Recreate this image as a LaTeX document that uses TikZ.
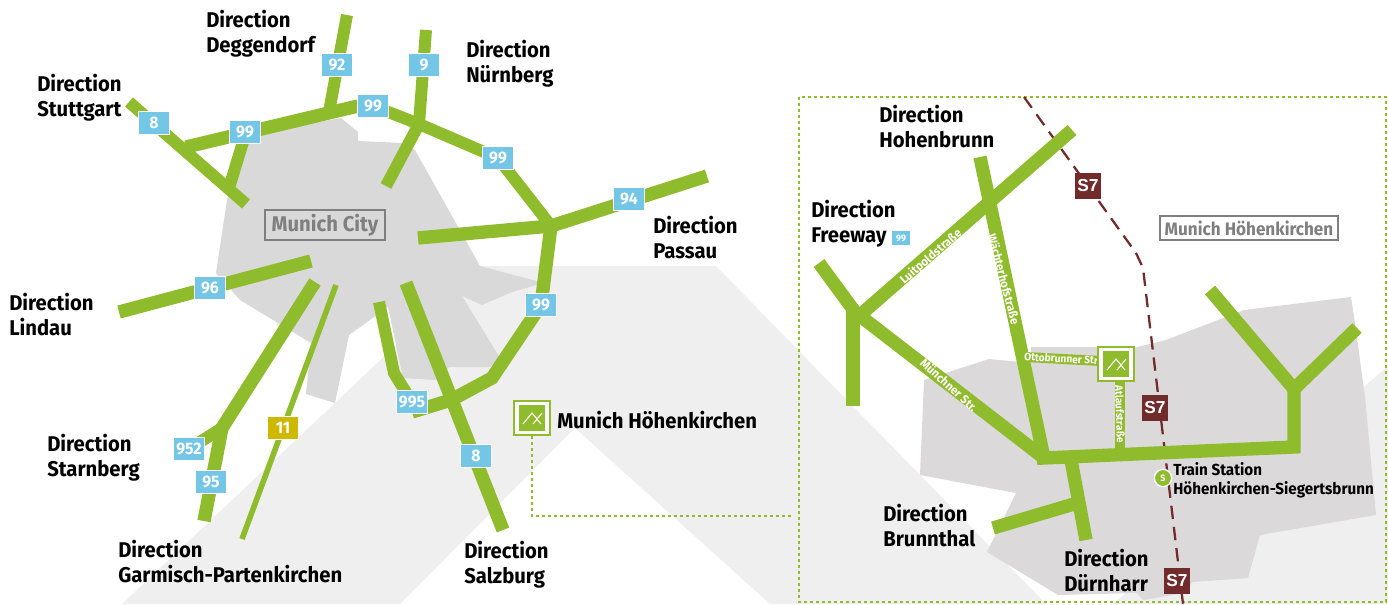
\documentclass[tikz,border=0pt]{standalone}
\usepackage{fontspec}
\setmainfont{Fira Sans}[FakeStretch=0.95]
\newfontfamily\arialish{Liberation Sans}
\usetikzlibrary{calc}
\definecolor{road}{HTML}{8FBC2C}
\definecolor{sky}{HTML}{74C6E6}
\definecolor{lightg}{HTML}{EFEFEF}
\definecolor{cityg}{HTML}{D9D9D9}
\definecolor{townog}{HTML}{DBD9DA}
\definecolor{rail}{HTML}{722B2B}
\definecolor{yel}{HTML}{CDB900}
\definecolor{framegray}{HTML}{7F7F7F}
\tikzset{
  rd/.style={draw=road,line width=10pt,line join=miter,line cap=butt},
  rdmid/.style={rd,line width=9pt},
  rdthin/.style={draw=road,line width=7.5pt},
  rdtiny/.style={draw=road,line width=4.2pt},
  badge/.style={fill=sky,draw=white,line width=1pt,minimum width=23pt,minimum height=17pt,inner sep=0pt,text=white,font=\bfseries\fontsize{12.5}{12.5}\selectfont},
  yellowbadge/.style={badge,fill=yel},
  sbadge/.style={fill=rail,minimum width=20pt,minimum height=20pt,inner sep=0pt,text=white,font=\arialish\bfseries\fontsize{13}{13}\selectfont},
  lab/.style={anchor=north west,align=left,inner sep=0pt,text=black,font=\bfseries\fontsize{16}{18.6}\selectfont},
  small/.style={anchor=west,align=left,inner sep=0pt,text=black,font=\bfseries\fontsize{12}{14.2}\selectfont},
  greybox/.style={draw=framegray,line width=1.4pt,text=framegray,inner sep=0pt},
  roadtext/.style={text=white,inner sep=0pt,font=\bfseries\fontsize{9}{9}\selectfont},
  mout/.style={draw=road,line width=1.6pt,fill=white,minimum width=27pt,minimum height=25.5pt,inner sep=0pt},
  min/.style={fill=road,minimum width=19pt,minimum height=19pt,inner sep=0pt},
  icon/.style={draw=white,line width=.8pt},
  leader/.style={draw=road,line width=1.2pt,dash pattern=on 2.5pt off 2pt}
}
\begin{document}
\begin{tikzpicture}[x=0.75pt,y=-0.75pt]
\useasboundingbox (0,0) rectangle (1388,604);
% background bands
\fill[lightg] (122,604) -- (480,266) -- (716,266) -- (1046,604) -- (770,604) -- (575,428) -- (400,604) -- cycle;
\fill[lightg] (1388,366) -- (1388,604) -- (1113,604) -- cycle;
% Munich city
\fill[cityg] (341,118) -- (358,132) -- (358,141) -- (402,143) -- (415,150) -- (480,266) -- (544,283) -- (512,292) -- (482,305) -- (462,296) -- (500,358) -- (490,367) -- (449,367) -- (436,380) -- (403,378) -- (388,307) -- (349,335) -- (335,403) -- (306,394) -- (311,343) -- (240,300) -- (216,273) -- (227,200) -- (244,147) -- (258,133) -- cycle;
% Hoehenkirchen town
\fill[townog] (1031,347) -- (1137,347) -- (1166,340) -- (1244,310) -- (1351,297) -- (1355,323) -- (1365,397) -- (1376,515) -- (1260,535) -- (1248,578) -- (1192,582) -- (1185,593) -- (1143,600) -- (1137,593) -- (1058,595) -- (987,552) -- (1016,493) -- (920,475) -- (924,380) -- (989,359) -- (1031,363) -- cycle;
% frame
\draw[leader] (799,97) rectangle (1386,602);
% rail
\coordinate (r0) at (1024,97);
\coordinate (r1) at (1136,253);
\coordinate (r2) at (1143,268);
\coordinate (r3) at (1183,604);
\draw[rail,line width=1.7pt,dash pattern=on 10pt off 6pt] (r0) -- (r1) -- (r2) -- (r3);
% main-map junctions
\coordinate (j1) at (551,226);
\coordinate (j2) at (419,124);
\coordinate (j3) at (186,147);
\coordinate (j4) at (329,112);
\coordinate (j5) at (222,428);
\coordinate (j6) at (229,188);
% main-map roads
\draw[rdmid] (129,102) -- (246,204);
\draw[rd] (j3) -- (358,106);
\draw[rdmid] (246,132) -- (j6);
\draw[rdmid] (347,15) -- (j4);
\draw[rdmid] (426,30) -- (j2) -- (386,186);
\draw[rdmid] (373,106) -- (j2) -- (498,158) -- (j1);
\draw[rd] (418,238) -- (j1) -- (707,176);
\draw[rd] (j1) -- (541,305) -- (492,378) -- (451,400) -- (412,412);
\draw[rd] (406,283) -- (503,530);
\draw[rdmid] (379,302) -- (394,373) -- (412,402);
\draw[rd] (119,312) -- (311,261);
\draw[rd] (315,282) -- (j5) -- (204,521);
\draw[rdmid] (j5) -- (189,449);
\draw[rdtiny] (336,285) -- (242,539);
% right-map junctions
\coordinate (k1) at (859,316);
\coordinate (k2) at (1044,458);
\coordinate (k3) at (1294,447);
\coordinate (k4) at (1294,389);
\coordinate (k5) at (1074,504);
\draw[rd] (1072,130) -- (k1);
\draw[rd] (980,157) -- (k2);
\draw[rd] (819,263) -- (855,312) -- (k2);
\draw[rd] (853,307) -- (853,406);
\draw[rd] (1037,458.3) -- (k3) -- (k4);
\draw[rd] (1210,290) -- (k4) -- (1357,328);
\draw[rd] (1071,460) -- (1086,540);
\draw[rd] (993,528) -- (k5);
\draw[rdthin] (1025,357) -- (1101,361);
\draw[rdthin] (1120,378) -- (1120,450);
% road names
\node[roadtext,rotate=41] (nl) at (931,257) {Luitpoldstraße};
\node[roadtext,rotate=-75] (nw) at (1004,279) {Wächterhofstraße};
\node[roadtext,rotate=-42] (nm) at (949,385) {Münchner Str.};
\node[roadtext,rotate=-3,font=\bfseries\fontsize{8}{8}\selectfont] (no) at (1062,358.5) {Ottobrunner Str.};
\node[roadtext,rotate=-88,font=\bfseries\fontsize{8}{8}\selectfont] (na) at (1120,414) {Atlaufstraße};
% badges
\node[badge] (b92) at (337,65) {92};
\node[badge] (b9) at (424,65) {9};
\node[badge] (b99a) at (373,106) {99};
\node[badge] (b99b) at (245,132) {99};
\node[badge] (b8a) at (154,123) {8};
\node[badge] (b99c) at (498,158) {99};
\node[badge] (b94) at (629,199) {94};
\node[badge] (b96) at (210,288) {96};
\node[badge] (b99d) at (541,305) {99};
\node[badge] (b995) at (412,402) {995};
\node[badge] (b952) at (189,449) {952};
\node[badge] (b95) at (211,482) {95};
\node[yellowbadge] (b11) at (283,428) {11};
\node[badge] (b8b) at (476,456) {8};
\node[fill=sky,minimum width=13.5pt,minimum height=10pt,inner sep=0pt,text=white,font=\bfseries\fontsize{7}{7}\selectfont] (b99e) at (901,238) {99};
% S7
\node[sbadge] (s1) at (1088,186) {S7};
\node[sbadge] (s2) at (1155,408) {S7};
\node[sbadge] (s3) at (1177,581) {S7};
% station
\node[circle,fill=road,draw=white,line width=1pt,minimum size=13pt,inner sep=0pt,text=white,font=\bfseries\fontsize{7}{7}\selectfont] (st) at (1163,478) {S};
\node[small] (stl) at (1173,480) {Train Station\\Höhenkirchen-Siegertsbrunn};
% markers
\node[mout] (m1) at (532,418) {};
\node[min] (m1i) at (532,418) {};
\draw[icon] ($(m1)+(-9,6)$) -- ($(m1)+(0,-5)$) -- ($(m1)+(9,6)$) ($(m1)+(1,6)$) -- ($(m1)+(10,-5)$);
\node[mout] (m2) at (1116,364) {};
\node[min] (m2i) at (1116,364) {};
\draw[icon] ($(m2)+(-9,6)$) -- ($(m2)+(0,-5)$) -- ($(m2)+(9,6)$) ($(m2)+(1,6)$) -- ($(m2)+(10,-5)$);
\coordinate (lk) at (791,516);
\draw[leader] (m1.south) -- (m1.south |- lk) -- (lk);
% labels
\node[lab] (l1) at (206,10) {Direction\\Deggendorf};
\node[lab] (l2) at (466,40) {Direction\\Nürnberg};
\node[lab] (l3) at (37,74) {Direction\\Stuttgart};
\node[lab] (l4) at (653,216) {Direction\\Passau};
\node[lab] (l5) at (9,293) {Direction\\Lindau};
\node[lab] (l6) at (47,434) {Direction\\Starnberg};
\node[lab] (l7) at (118,540) {Direction\\Garmisch-Partenkirchen};
\node[lab] (l8) at (464,541) {Direction\\Salzburg};
\node[lab,anchor=west] (l9) at (557,420) {Munich Höhenkirchen};
\node[lab] (l10) at (879,105) {Direction\\Hohenbrunn};
\node[lab] (l11) at (811,200) {Direction\\Freeway};
\node[lab] (l12) at (883,504) {Direction\\Brunnthal};
\node[lab] (l13) at (1064,549) {Direction\\Dürnharr};
\node[greybox,minimum width=90pt,minimum height=22pt,font=\bfseries\fontsize{16}{16}\selectfont] (c1) at (325,225) {Munich City};
\node[greybox,fill=white,minimum width=134pt,minimum height=18.5pt,font=\bfseries\fontsize{13.5}{13.5}\selectfont] (c2) at (1249,228) {Munich Höhenkirchen};
\end{tikzpicture}
\end{document}
